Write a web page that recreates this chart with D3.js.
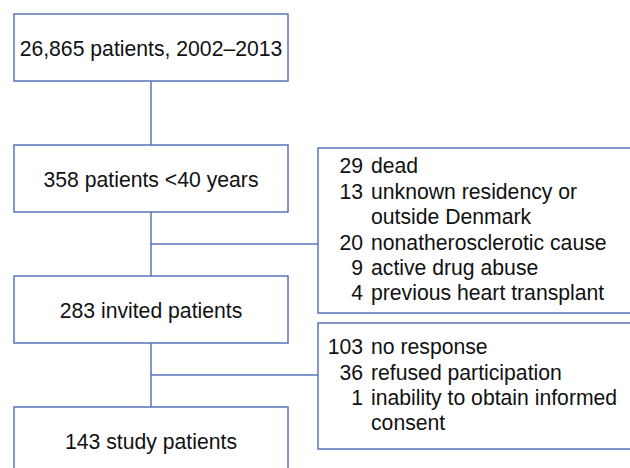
<!DOCTYPE html>
<html lang="en">
<head>
<meta charset="UTF-8">
<script src="https://d3js.org/d3.v7.min.js"></script>
<style>
  body { margin: 0; background: #fff; }
  text { font-family: "Liberation Sans", Arial, sans-serif; font-size: 21.2px; fill: #111; }
</style>
</head>
<body>
<script>
// flow steps, top to bottom
const steps = ["26,865 patients, 2002\u20132013", "358 patients <40 years", "283 invited patients", "143 study patients"];

// exclusions between step i and step i+1
const exclusionAfter = [1, 2];
const exclusionCounts = [
  ["29", "13", "", "20", "9", "4"],
  ["103", "36", "1", ""]
];
const exclusionTexts = [
  ["dead", "unknown residency or", "outside Denmark", "nonatherosclerotic cause", "active drug abuse", "previous heart transplant"],
  ["no response", "refused participation", "inability to obtain informed", "consent"]
];

const width = 630, height = 468;
const stroke = "#5a74bd";

const svg = d3.select("body").append("svg")
  .attr("width", width)
  .attr("height", height);

// layout
const boxX = 14, boxW = 274, boxH = 67;
const y = d3.scaleLinear().domain([0, steps.length - 1]).range([14, 407]);
const cx = boxX + boxW / 2;
const exX = 318;
const lineH = 25.4;
const exBoxes = [{top: 148, bottom: 313}, {top: 323, bottom: 449}];

// vertical connectors
svg.selectAll(".vlink")
  .data(d3.range(steps.length - 1))
  .join("line")
  .attr("x1", cx).attr("x2", cx)
  .attr("y1", i => y(i) + boxH)
  .attr("y2", i => y(i + 1))
  .attr("stroke", stroke).attr("stroke-width", 1.5);

// horizontal connectors to exclusion boxes
svg.selectAll(".hlink")
  .data(exclusionAfter)
  .join("line")
  .attr("x1", cx).attr("x2", exX)
  .attr("y1", i => (y(i) + boxH + y(i + 1)) / 2)
  .attr("y2", i => (y(i) + boxH + y(i + 1)) / 2)
  .attr("stroke", stroke).attr("stroke-width", 1.5);

// main boxes
const step = svg.selectAll(".step")
  .data(steps)
  .join("g")
  .attr("class", "step");

step.append("rect")
  .attr("x", boxX)
  .attr("y", (d, i) => y(i))
  .attr("width", boxW)
  .attr("height", boxH)
  .attr("fill", "#fff")
  .attr("stroke", stroke).attr("stroke-width", 1.5);

step.append("text")
  .attr("x", cx)
  .attr("y", (d, i) => y(i) + boxH / 2)
  .attr("dy", "0.38em")
  .attr("text-anchor", "middle")
  .text(d => d);

// exclusion boxes (open to the right edge)
const ex = svg.selectAll(".excl")
  .data(exclusionAfter)
  .join("g")
  .attr("class", "excl");

ex.append("path")
  .attr("d", (d, k) => {
    const b = exBoxes[k];
    return `M${width + 2},${b.top}H${exX}V${b.bottom}H${width + 2}`;
  })
  .attr("fill", "none")
  .attr("stroke", stroke).attr("stroke-width", 1.5);

ex.each(function(d, k) {
  const g = d3.select(this);
  const b = exBoxes[k];
  const n = exclusionTexts[k].length;
  const first = (b.top + b.bottom) / 2 - (n - 1) * lineH / 2;
  g.selectAll(".cnt")
    .data(exclusionCounts[k])
    .join("text")
    .attr("x", exX + 45)
    .attr("y", (c, j) => first + j * lineH)
    .attr("dy", "0.3em")
    .attr("text-anchor", "end")
    .text(c => c);
  g.selectAll(".lbl")
    .data(exclusionTexts[k])
    .join("text")
    .attr("x", exX + 53)
    .attr("y", (c, j) => first + j * lineH)
    .attr("dy", "0.3em")
    .text(c => c);
});
</script>
</body>
</html>
